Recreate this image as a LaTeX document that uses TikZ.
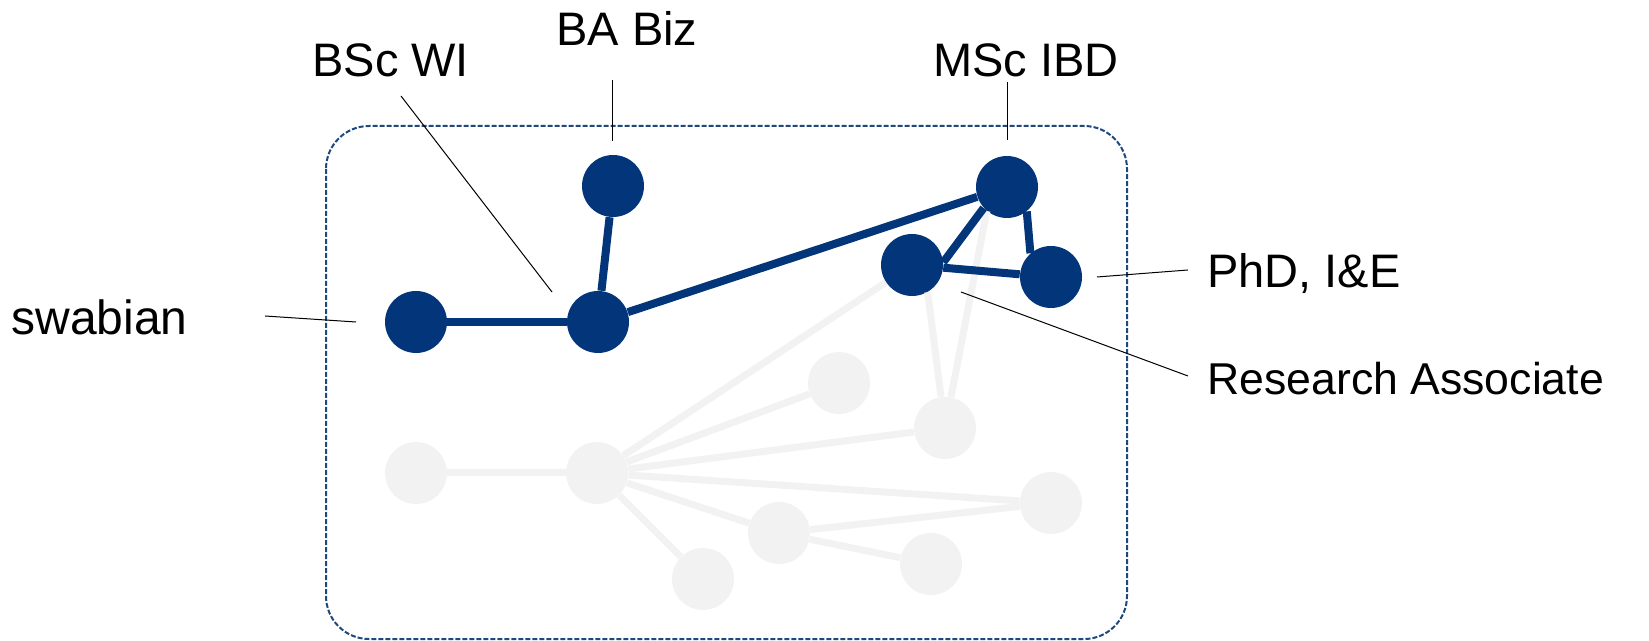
\documentclass[tikz,border=0pt]{standalone}
\usepackage{fontspec}
\setmainfont{Liberation Sans}
\definecolor{navy}{RGB}{3,53,122}
\definecolor{pale}{RGB}{242,242,242}
\definecolor{framecol}{RGB}{31,73,125}
\begin{document}
\begin{tikzpicture}[x=0.5pt, y=-0.5pt,
    dot/.style={circle, fill=navy, minimum size=31pt, inner sep=0pt},
    ghost/.style={circle, fill=pale, minimum size=31pt, inner sep=0pt},
    link/.style={line width=4pt, navy},
    faint/.style={line width=3.5pt, pale},
    leader/.style={line width=0.5pt, black},
    lbl/.style={anchor=base west, inner sep=0pt, font=\fontsize{23.5}{28}\selectfont}]
        \useasboundingbox (0,0) rectangle (1649,641);
        \draw [framecol, line width=1pt, dash pattern=on 2.5pt off 1pt, rounded corners=21.5pt] (326,126) rectangle (1127,639);
        % network in the background
        \node [ghost] (g1) at (416,473) {};
        \node [ghost] (g2) at (597,473) {};
        \node [ghost] (g3) at (839,383) {};
        \node [ghost] (g4) at (945,428) {};
        \node [ghost] (g5) at (1051,503) {};
        \node [ghost] (g6) at (779,533) {};
        \node [ghost] (g7) at (931,564) {};
        \node [ghost] (g8) at (703,579) {};
        % career path
        \node [dot] (swab) at (416,322) {};
        \node [dot] (bsc) at (598,322) {};
        \node [dot] (ba) at (613,186) {};
        \node [dot] (msc) at (1007,187) {};
        \node [dot] (ra) at (912,265) {};
        \node [dot] (phd) at (1051,277) {};
        \draw [faint] (g1) -- (g2);
        \draw [faint] (g2) -- (g3);
        \draw [faint] (g2) -- (g4);
        \draw [faint] (g2) -- (g5);
        \draw [faint] (g2) -- (g6);
        \draw [faint] (g2) -- (g8);
        \draw [faint] (g6) -- (g5);
        \draw [faint] (g6) -- (g7);
        \draw [faint] (g2) -- (ra);
        \draw [faint] (g4) -- (ra.-60);
        \draw [faint] (g4) -- (msc.-130);
        \draw [link] (swab) -- (bsc);
        \draw [link] (bsc) -- (ba);
        \draw [link] (bsc) -- (msc);
        \draw [link] (msc.-138) -- (ra.5);
        \draw [link] (msc.-51) -- (phd.131);
        \draw [link] (ra) -- (phd);
        % labels
        \node [lbl, font=\fontsize{24}{28}\selectfont] (t-swab) at (11,335) {swabian};
        \node [lbl] (t-bsc) at (312,77) {BSc WI};
        \node [lbl] (t-ba) at (556,46) {BA Biz};
        \node [lbl] (t-msc) at (933,77) {MSc IBD};
        \node [lbl] (t-phd) at (1207,288) {PhD, I\&E};
        \node [lbl, font=\fontsize{22.3}{28}\selectfont] (t-ra) at (1207,395) {Research Associate};
        \coordinate (swab-a) at (265,316);
        \coordinate (swab-b) at (356,322);
        \coordinate (bsc-a) at (401,96);
        \coordinate (bsc-b) at (552,292);
        \coordinate (ba-a) at (612,80);
        \coordinate (ba-b) at (612,141);
        \coordinate (msc-a) at (1007,82);
        \coordinate (msc-b) at (1007,140);
        \coordinate (phd-a) at (1188,270);
        \coordinate (phd-b) at (1097,277);
        \coordinate (ra-a) at (1188,376);
        \coordinate (ra-b) at (961,292);
        \draw [leader] (swab-a) -- (swab-b);
        \draw [leader] (bsc-a) -- (bsc-b);
        \draw [leader] (ba-a) -- (ba-b);
        \draw [leader] (msc-a) -- (msc-b);
        \draw [leader] (phd-a) -- (phd-b);
        \draw [leader] (ra-a) -- (ra-b);
\end{tikzpicture}
\end{document}
